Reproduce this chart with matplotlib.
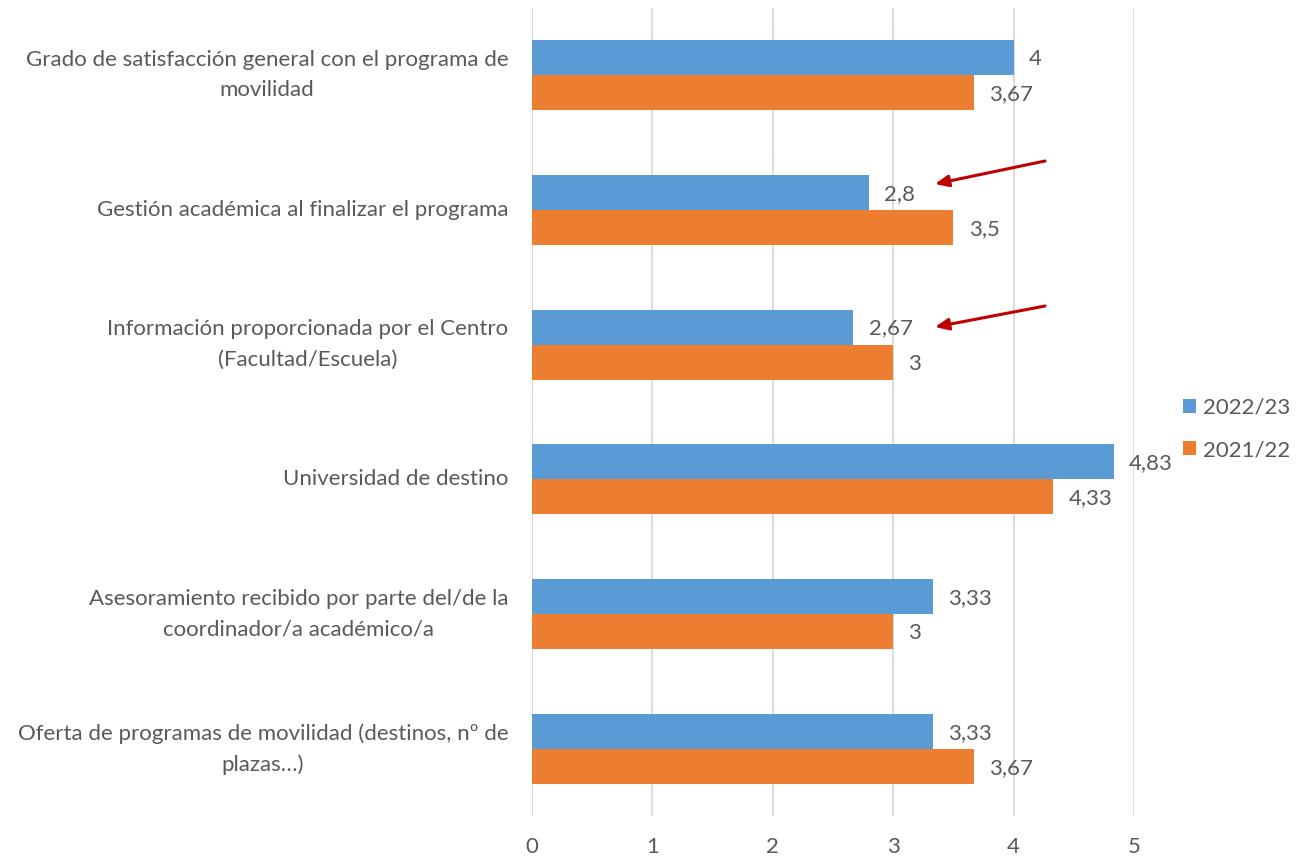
import matplotlib.pyplot as plt
import numpy as np

# data
categories = [
    "Grado de satisfacción general con el programa de\nmovilidad",
    "Gestión académica al finalizar el programa",
    "Información proporcionada por el Centro\n(Facultad/Escuela)",
    "Universidad de destino",
    "Asesoramiento recibido por parte del/de la\ncoordinador/a académico/a",
    "Oferta de programas de movilidad (destinos, nº de\nplazas…)",
]
vals_2223 = [4, 2.8, 2.67, 4.83, 3.33, 3.33]
vals_2122 = [3.67, 3.5, 3, 4.33, 3, 3.67]
series_names = ["2022/23", "2021/22"]

blue = "#5B9BD5"
orange = "#ED7D31"
gray = "#595959"

plt.rcParams["font.family"] = ["Lato", "DejaVu Sans"]

fig = plt.figure(figsize=(13.01, 8.59), dpi=100)
W, H = 1301, 859
ax = fig.add_axes([532 / W, 1 - 816.4 / H, (1134 - 532) / W, (816.4 - 7.6) / H])

y = np.arange(len(categories))
h = 0.26
b1 = ax.barh(y - h / 2, vals_2223, height=h, color=blue, label=series_names[0])
b2 = ax.barh(y + h / 2, vals_2122, height=h, color=orange, label=series_names[1])

def fmt(v):
    return ("%g" % v).replace(".", ",")

for bars, vals in [(b1, vals_2223), (b2, vals_2122)]:
    for bar, v in zip(bars, vals):
        ax.annotate(fmt(v), (v, bar.get_y() + bar.get_height() / 2),
                    xytext=(11, -1), textcoords="offset points",
                    va="center", ha="left", fontsize=16, color=gray)

ax.set_xlim(0, 5)
ax.set_ylim(len(categories) - 0.5, -0.5)
ax.set_xticks(range(6))
ax.set_yticks(y)
ax.set_yticklabels(categories, fontsize=16, color=gray, linespacing=1.65)
for t in ax.get_yticklabels():
    t.set_multialignment("center")
    t.set_verticalalignment("center")
ax.tick_params(axis="y", length=0, pad=17)
ax.tick_params(axis="x", length=0, pad=15, labelsize=16, labelcolor=gray)
ax.grid(axis="x", color="#D9D9D9", linewidth=1.3)
ax.set_axisbelow(True)
for s in ax.spines.values():
    s.set_visible(False)

# red arrows pointing at the lower 2022/23 values
def px2data(px, py):
    return ((px - 532) / 120.4, (py - 75) / 134.8)

for start, end in [((1045, 161), (935, 184)), ((1045, 306), (935, 327))]:
    ax.annotate("", xy=px2data(*end), xytext=px2data(*start),
                arrowprops=dict(arrowstyle="-|>,head_length=0.8,head_width=0.35",
                                color="#C00000", lw=2.2, shrinkA=0, shrinkB=0),
                annotation_clip=False)

leg = fig.legend(loc="upper left", bbox_to_anchor=(1163 / W, 1 - 378 / H),
                 frameon=False, fontsize=16, labelcolor=gray,
                 handlelength=0.6, handleheight=0.6, handletextpad=0.3,
                 labelspacing=1.0)

fig.savefig("out.png", dpi=100)
